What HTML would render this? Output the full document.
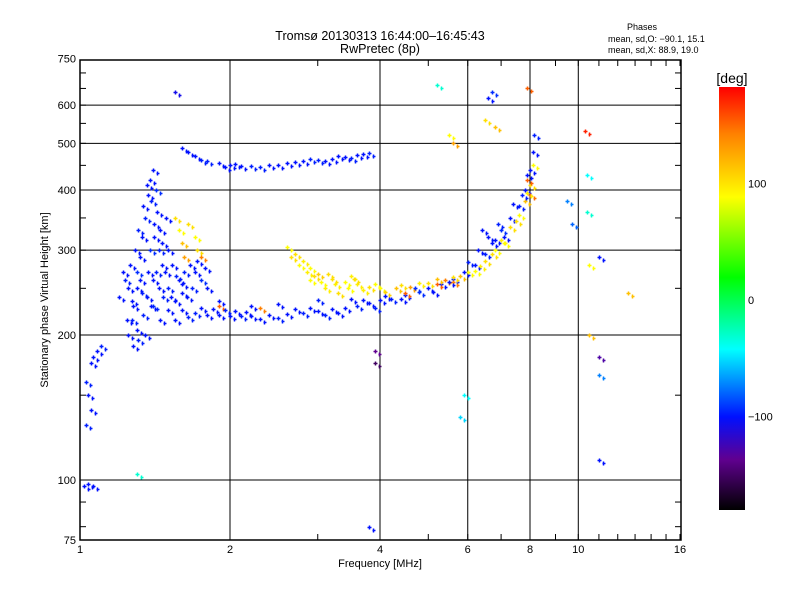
<!DOCTYPE html>
<html><head><meta charset="utf-8">
<style>
body{margin:0;background:#fff;}
svg{display:block;font-family:"Liberation Sans",sans-serif;}
</style></head>
<body>
<svg id="chart" width="800" height="600">
<defs>
<linearGradient id="cbg" x1="0" y1="0" x2="0" y2="1">
<stop offset="0" stop-color="#ff0000"/>
<stop offset="0.11" stop-color="#ff8000"/>
<stop offset="0.26" stop-color="#ffff00"/>
<stop offset="0.45" stop-color="#00ff00"/>
<stop offset="0.62" stop-color="#00ffff"/>
<stop offset="0.78" stop-color="#0010ff"/>
<stop offset="0.88" stop-color="#600090"/>
<stop offset="1" stop-color="#000000"/>
</linearGradient>
</defs>
<text x="380" y="40" text-anchor="middle" font-size="12.5">Tromsø 20130313 16:44:00–16:45:43</text>
<text x="380" y="53" text-anchor="middle" font-size="12.5">RwPretec (8p)</text>
<text x="642" y="30" text-anchor="middle" font-size="9">Phases</text>
<text x="608" y="42" font-size="9">mean, sd,O: −90.1, 15.1</text>
<text x="608" y="53" font-size="9">mean, sd,X:  88.9, 19.0</text>
<g id="grid"></g>
<g id="marks"></g>
<rect x="80" y="60" width="601" height="480" fill="none" stroke="#000" stroke-width="1.5"/>
<g id="axes"></g>
<text x="380" y="567" text-anchor="middle" font-size="11">Frequency [MHz]</text>
<text transform="translate(48,300) rotate(-90)" text-anchor="middle" font-size="11">Stationary phase Virtual Height [km]</text>
<text x="732" y="83" text-anchor="middle" font-size="14">[deg]</text>
<rect x="719" y="87" width="26" height="423" fill="url(#cbg)"/>
<g id="cbticks"></g>
</svg>
<script>
const xTicks=[1,2,4,6,8,10,16];
const yTicks=[75,100,200,300,400,500,600,750];
const gridX=[2,4,6,8,10];
const gridY=[100,200,300,400,500,600];
const cbTicks=[100,0,-100];
const freq=[1.02,1.04,1.06,1.03,1.05,1.04,1.03,1.05,1.08,1.1,1.06,
1.25,1.27,1.28,1.3,1.3,1.32,1.33,1.35,1.37,1.38,1.4,1.42,1.43,1.45,1.44,1.46,1.4,1.36,1.34,1.3,1.28,1.32,1.38,1.41,1.48,1.5,1.52,1.55,1.58,1.62,1.66,1.7,1.75,1.8,1.35,1.25,1.22,
1.5,1.6,1.7,1.8,1.9,2.0,2.1,2.2,2.4,2.6,2.8,3.0,3.2,3.4,3.6,3.8,4.0,4.2,4.5,4.8,5.0,5.3,5.6,5.9,6.2,6.5,6.8,7.0,7.3,7.6,7.8,8.0,8.1,8.15,1.6,1.9,2.2,2.5,3.0,3.5,6.4,6.7,
2.6,2.7,2.8,2.9,3.0,3.2,3.4,3.6,3.8,4.0,4.3,4.6,5.0,5.4,5.8,6.2,6.5,6.8,7.0,7.3,7.6,7.8,8.0,8.1,3.1,3.3,2.9,3.5,
4.5,5.2,5.6,7.9,8.0,1.9,2.3,
1.55,1.58,1.6,1.62,1.65,1.7,1.72,1.75,1.4,1.45,
1.6,1.7,1.8,1.9,2.0,2.1,2.2,2.4,2.6,2.8,3.0,3.2,3.4,3.6,3.8,
5.5,5.6,6.6,6.7,7.9,6.5,6.8,1.55,5.2,
10.3,10.4,10.4,10.5,10.5,11.0,11.0,11.0,11.0,3.9,3.9,5.9,5.8,3.8,12.6,9.5,9.7,1.3,
1.55,1.65,1.75,1.85,1.95,2.05,2.15,2.3,2.5,2.7,2.9,3.1,3.3,3.7,3.9,4.1,4.4,4.7,5.1,5.5,6.0,6.3,6.6,6.9,7.1,7.4,7.7,7.9,
1.2,1.23,1.26,1.29,1.31,1.34,1.36,1.39,1.41,1.44,1.47,1.5,1.53,1.56,1.6,1.64,1.68,1.72,1.78,1.27,1.33,1.37,1.39,1.42,1.46,1.49,1.31,1.24,
1.65,1.75,1.95,2.05,2.3,2.5,2.7,2.9,3.1,3.3,3.5,3.7,
2.65,2.75,2.85,2.95,3.05,3.15,3.25,3.45,3.55,3.7,3.9,4.1,4.4,4.8,5.2,5.6,6.0,6.35,6.7,7.1,7.5,7.9];
const height=[97,98,97,130,140,150,160,175,185,190,180,
200,215,230,250,270,290,320,350,390,420,440,400,360,330,300,280,260,240,220,205,190,260,300,340,270,250,240,235,260,270,280,270,260,250,200,250,270,
225,225,222,220,220,219,219,219,220,221,222,224,226,228,230,233,236,238,242,246,250,255,262,270,280,295,315,330,350,370,400,440,480,520,245,235,230,232,236,238,330,310,
305,295,285,275,268,262,258,255,252,250,250,252,256,260,265,272,285,300,315,335,355,380,410,450,250,245,260,265,
245,255,258,420,390,230,228,
350,330,310,290,340,320,300,290,230,215,
490,470,460,455,450,448,448,450,455,460,462,465,468,472,478,
520,500,620,640,650,560,540,640,660,
530,430,360,280,200,180,165,110,290,185,175,150,135,80,245,380,340,103,
215,218,228,226,225,224,223,216,217,226,228,220,222,236,228,241,238,250,246,258,284,300,320,340,320,375,390,430,
240,260,280,300,330,370,410,380,320,250,240,300,280,265,255,240,250,285,275,235,245,270,230,270,310,350,195,215,
480,462,447,452,446,451,458,463,460,470,466,475,
290,280,270,265,258,268,255,250,262,248,255,246,254,257,262,264,270,278,295,310,345,395];
const phase=[-100,-100,-100,-95,-100,-100,-95,-100,-100,-95,-100,
-100,-95,-100,-100,-90,-100,-100,-95,-100,-100,-100,-90,-100,-100,-95,-100,-100,-100,-95,-100,-100,-100,-90,-100,-100,-95,-100,-100,-100,-95,-100,-100,-90,-100,-100,-100,-100,
-100,-100,-95,-100,-100,-100,-95,-100,-100,-100,-95,-100,-100,-100,-95,-100,-100,-95,-100,-90,-100,-100,-95,-100,-100,-95,-100,-90,-100,-95,-100,-100,-100,-95,-100,-100,-100,-100,-95,-100,-100,-100,
100,110,105,100,115,110,100,105,110,100,120,130,110,140,120,100,110,100,105,110,100,120,110,100,105,110,100,105,
150,150,140,150,145,150,140,
110,100,120,130,110,100,110,140,-90,-100,
-100,-100,-95,-100,-100,-100,-95,-100,-100,-100,-95,-100,-100,-100,-95,
100,130,-100,-90,150,110,120,-110,-20,
170,-30,-20,100,120,-140,-60,-100,-100,-150,-160,-30,-40,-100,120,-60,-70,-20,
-100,-95,-100,-100,-95,-100,-100,-100,-95,-100,-100,-95,-100,-100,-95,-100,-100,-90,-100,-100,-95,-100,-100,-95,-100,-100,-95,-100,
-100,-95,-100,-100,-95,-100,-100,-95,-100,-100,-95,-100,-100,-95,-100,-100,-95,-100,-100,-100,-95,-100,-100,-95,-100,-100,-95,-100,
-100,-95,-100,-100,-95,-100,-100,-95,-100,-100,-95,-100,
110,100,105,110,100,110,105,100,110,105,100,115,110,105,120,110,100,105,110,100,110,105];

const X=f=>80+150*Math.log2(f);
const Y=h=>480-145*Math.log2(h/100);
const CB=p=>300-1.165*p;
const stops=[[-180,[0,0,0]],[-150,[96,0,144]],[-100,[0,16,255]],[-60,[0,128,255]],[-30,[0,255,255]],[25,[0,255,0]],[100,[255,255,0]],[140,[255,128,0]],[180,[255,0,0]]];
function col(p){p=Math.max(-180,Math.min(180,p));for(let i=1;i<stops.length;i++){if(p<=stops[i][0]){const a=stops[i-1],b=stops[i],t=(p-a[0])/(b[0]-a[0]);return 'rgb('+a[1].map((v,k)=>Math.round(v+(b[1][k]-v)*t)).join(',')+')';}}return 'red';}
const NS='http://www.w3.org/2000/svg';
function mk(tag,attrs,parent){const e=document.createElementNS(NS,tag);for(const k in attrs)e.setAttribute(k,attrs[k]);parent.appendChild(e);return e;}
const grid=document.getElementById('grid'),axes=document.getElementById('axes'),marks=document.getElementById('marks'),cbt=document.getElementById('cbticks');
gridX.forEach(f=>{const l=mk('line',{x1:X(f),x2:X(f),y1:60,y2:540,stroke:'#000','stroke-width':1},grid);

});
gridY.forEach(h=>{const l=mk('line',{x1:80,x2:681,y1:Y(h),y2:Y(h),stroke:'#000','stroke-width':1},grid);

});
xTicks.forEach(f=>{const t=mk('text',{x:X(f),y:553,'text-anchor':'middle','font-size':11},axes);t.textContent=f;

});
yTicks.forEach(h=>{const t=mk('text',{x:76,y:Y(h)+4,'text-anchor':'end','font-size':11},axes);t.textContent=h;

});
for(let f=1;f<=16;f++){const x=X(f);mk('line',{x1:x,x2:x,y1:60,y2:66,stroke:'#000'},axes);mk('line',{x1:x,x2:x,y1:534,y2:540,stroke:'#000'},axes);}
for(const h of [80,90,100,150,200,250,300,350,400,450,500,550,600,650,700]){const y=Y(h);mk('line',{x1:80,x2:86,y1:y,y2:y,stroke:'#000'},axes);mk('line',{x1:675,x2:681,y1:y,y2:y,stroke:'#000'},axes);}
cbTicks.forEach(p=>{const t=mk('text',{x:748,y:CB(p)+4,'font-size':11},cbt);t.textContent=p===-100?'−100':p;

});
for(let i=0;i<freq.length;i++){const x=Math.round(X(freq[i]))+0.5,y=Math.round(Y(height[i]))+0.5,c=col(phase[i]);
const g=mk('path',{d:`M${x-2},${y}h4M${x},${y-2}v4M${x+3},${y+3}h3M${x+4},${y+1}v4`,stroke:c,'stroke-width':1.5},marks);

}
</script>
</body></html>
